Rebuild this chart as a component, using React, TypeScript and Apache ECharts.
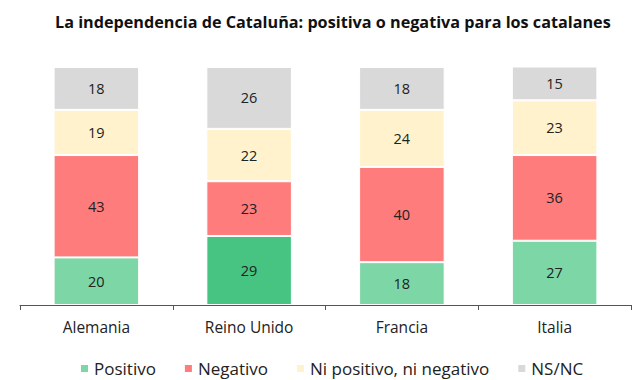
import React, { useEffect, useRef } from "react";
import * as echarts from "echarts";

const title = "La independencia de Cataluña: positiva o negativa para los catalanes";
const categories = ["Alemania", "Reino Unido", "Francia", "Italia"];
const positivo = [20, 29, 18, 27];
const negativo = [43, 23, 40, 36];
const niNi = [19, 22, 24, 23];
const nsnc = [18, 26, 18, 15];
const seriesNames = ["Positivo", "Negativo", "Ni positivo, ni negativo", "NS/NC"];
const colors = ["#7dd6a6", "#ff7c7c", "#fff2cc", "#d9d9d9"];
const highlightPositivo = "#47c482";

export default function App() {
  const ref = useRef<HTMLDivElement>(null);
  useEffect(() => {
    document.body.style.margin = "0";
    const chart = echarts.init(ref.current!, null, { renderer: "svg" });
    const font = "'Open Sans', 'Noto Sans', sans-serif";
    const mk = (name: string, data: any[], color: string) => ({
      name,
      type: "bar",
      stack: "total",
      barWidth: "56%",
      data,
      itemStyle: { color, borderColor: "#ffffff", borderWidth: 1 },
      label: {
        show: true,
        position: "inside",
        color: "#222222",
        fontSize: 14.5,
        fontFamily: font,
      },
      emphasis: { disabled: true },
    });
    chart.setOption({
      animation: false,
      color: colors,
      title: {
        text: title,
        left: 50,
        top: 9,
        textStyle: { fontSize: 16.2, fontWeight: "bold", color: "#111111", fontFamily: font },
      },
      legend: {
        top: 355,
        left: 74,
        icon: "rect",
        itemWidth: 9,
        itemHeight: 9,
        itemGap: 27,
        textStyle: { fontSize: 17, color: "#222222", fontFamily: font },
        data: seriesNames,
      },
      grid: { left: 20, right: 9, top: 67, bottom: 75 },
      xAxis: {
        type: "category",
        data: categories,
        axisLine: { lineStyle: { color: "#555555", width: 1 } },
        axisTick: { show: true, length: 5, lineStyle: { color: "#555555" } },
        axisLabel: { fontSize: 15.5, color: "#222222", margin: 14, fontFamily: font },
      },
      yAxis: {
        type: "value",
        min: 0,
        max: 100,
        show: false,
        splitLine: { show: false },
      },
      series: [
        mk(
          seriesNames[0],
          positivo.map((v, i) =>
            i === 1 ? { value: v, itemStyle: { color: highlightPositivo } } : v
          ),
          colors[0]
        ),
        mk(seriesNames[1], negativo, colors[1]),
        mk(seriesNames[2], niNi, colors[2]),
        mk(seriesNames[3], nsnc, colors[3]),
      ],
    });
    return () => chart.dispose();
  }, []);
  return <div ref={ref} style={{ width: 640, height: 380 }} />;
}
